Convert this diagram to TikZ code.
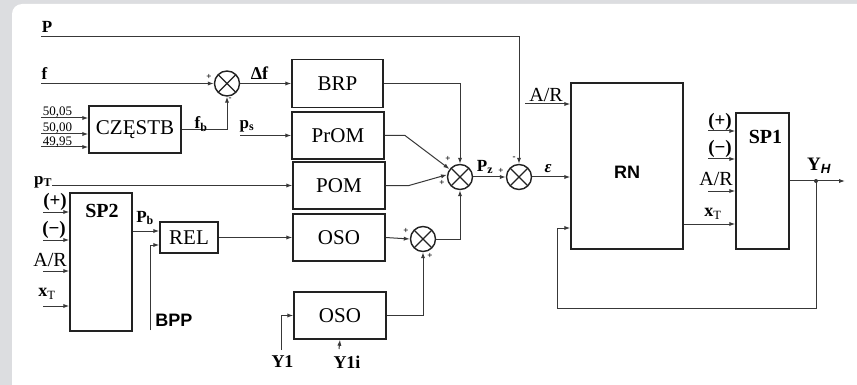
\documentclass[tikz,border=0pt]{standalone}
\usepackage{fontspec}
\setmainfont{Liberation Serif}
\newfontfamily\sansb{Liberation Sans}
\usetikzlibrary{arrows.meta,calc}
\newcommand{\setfs}[1]{\fontsize{#1}{#1}\selectfont}
\definecolor{bggray}{HTML}{DCDDE0}
\definecolor{wire}{HTML}{383838}
\definecolor{edge}{HTML}{222222}
\tikzset{
  box/.style={draw=edge,line width=1.4pt,rectangle,inner sep=0pt,font=\setfs{21}},
  sumnode/.style={draw=edge,line width=1.4pt,circle,minimum size=25pt,inner sep=0pt,
    path picture={\draw[edge,line width=1.1pt] (path picture bounding box.north west) -- (path picture bounding box.south east)
      (path picture bounding box.north east) -- (path picture bounding box.south west);}},
  wirestyle/.style={draw=wire,line width=1pt},
  arr/.style={wirestyle,-{Latex[length=6pt,width=4.2pt]}},
  lbl/.style={inner sep=0pt,font=\setfs{19}\bfseries},
  lblr/.style={inner sep=0pt,font=\setfs{20}},
  sgn/.style={inner sep=0pt,font=\setfs{9}\bfseries},
}
\begin{document}
\begin{tikzpicture}[x=1pt,y=-1pt]
\useasboundingbox (0,0) rectangle (857,385);
\begin{scope}
\clip (0,0) rectangle (857,385);
\fill[bggray] (0,0) rectangle (857,385);
\fill[white,rounded corners=10pt] (12,400) -- (12,4) -- (880,4) -- (880,400) -- cycle;
\end{scope}

% boxes
\node[box,minimum width=92pt,minimum height=47pt] (cz) at (135,129.5) {CZĘSTB};
\node[box,minimum width=91pt,minimum height=48pt] (brp) at (337.5,83.5) {BRP};
\node[box,minimum width=92pt,minimum height=47pt] (prom) at (338,135.5) {PrOM};
\node[box,minimum width=92pt,minimum height=47pt] (pom) at (339,185.5) {POM};
\node[box,minimum width=92pt,minimum height=47pt] (oso1) at (339,237.5) {OSO};
\node[box,minimum width=92pt,minimum height=47pt] (oso2) at (340,315.5) {OSO};
\node[box,minimum width=62pt,minimum height=138pt] (sp2) at (101,262) {};
\node[lbl,font=\setfs{20}\bfseries] (sp2t) at (102,211) {SP2};
\node[box,minimum width=58pt,minimum height=31pt] (rel) at (189,237.5) {REL};
\node[box,minimum width=112pt,minimum height=166pt] (rn) at (627,166) {};
\node[inner sep=0pt,font=\sansb\setfs{18}\bfseries] (rnt) at (627,172) {RN};
\node[box,minimum width=53pt,minimum height=136pt] (sp1) at (762.5,181) {};
\node[lbl,font=\setfs{20}\bfseries] (sp1t) at (765.5,136.5) {SP1};

% summing junctions
\node[sumnode] (s1) at (227,83.5) {};
\node[sumnode] (s2) at (460,177) {};
\node[sumnode] (s3) at (423,239) {};
\node[sumnode] (s4) at (519,177) {};

% free ends
\coordinate (pin) at (41,37);
\coordinate (fin) at (41,83.5);
\coordinate (c1) at (41,118);
\coordinate (c2) at (41,134);
\coordinate (c3) at (41,147);
\coordinate (psin) at (240,135.5);
\coordinate (ptin) at (52,185.5);
\coordinate (ar1) at (525,104);
\coordinate (a1) at (43,212);
\coordinate (a2) at (43,240);
\coordinate (a3) at (43,271);
\coordinate (a4) at (43,306);
\coordinate (bpp) at (150,330);
\coordinate (y1) at (281,350);
\coordinate (y1i) at (339,349);
\coordinate (b1) at (708,131);
\coordinate (b2) at (708,159);
\coordinate (b3) at (708,191);
\coordinate (yout) at (845,181);
\coordinate (jn) at (816,181);

% connectors
\draw[arr] (pin) -| (s4.north);
\draw[arr] (fin) -- (s1.west);
\draw[arr] (s1.east) -- (brp.west);
\draw[arr] (c1) -- (c1 -| cz.west);
\draw[arr] (c2) -- (c2 -| cz.west);
\draw[arr] (c3) -- (c3 -| cz.west);
\draw[arr] (cz.east) -| (s1.south);
\draw[arr] (psin) -- (prom.west);
\draw[arr] (ptin) -- (pom.west);
\draw[arr] (brp.east) -| (s2.north);
\draw[arr] (prom.east) -- (405,135.5) -- (s2.143);
\draw[arr] (pom.east) -- (409,185.5) -- (s2.170);
\draw[arr] (oso1.east) -- (s3.west);
\draw[arr] (s3.east) -| (s2.south);
\draw[arr] (s2.east) -- (s4.west);
\draw[arr] (s4.east) -- (s4.east -| rn.west);
\draw[arr] (ar1) -- (ar1 -| rn.west);
\draw[arr] (a1) -- (a1 -| sp2.west);
\draw[arr] (a2) -- (a2 -| sp2.west);
\draw[arr] (a3) -- (a3 -| sp2.west);
\draw[arr] (a4) -- (a4 -| sp2.west);
\draw[arr] (sp2.east |- 0,231) -- (rel.west |- 0,231);
\draw[arr] (bpp) |- (rel.west |- 0,245);
\draw[arr] (rel.east) -- (oso1.west);
\draw[arr] (y1) |- (oso2.west);
\draw[arr] (y1i) -- (oso2.south);
\draw[arr] (oso2.east) -| (s3.south);
\draw[arr] (rn.east |- 0,224) -- (sp1.west |- 0,224);
\draw[arr] (b1) -- (b1 -| sp1.west);
\draw[arr] (b2) -- (b2 -| sp1.west);
\draw[arr] (b3) -- (b3 -| sp1.west);
\draw[arr] (sp1.east |- jn) -- (yout);
\draw[arr] (jn) -- (816,308) -- (557,308) -- (557,228) -- (rn.west |- 0,228);
\fill[wire] (jn) circle (2pt);

% labels
\node[lbl,font=\setfs{17}\bfseries] (lp) at (47,27) {P};
\node[lbl,font=\setfs{17}\bfseries] (lf) at (44.5,74) {f};
\node[inner sep=0pt,font=\setfs{13}] (l1) at (57.5,112) {50,05};
\node[inner sep=0pt,font=\setfs{13}] (l2) at (57.5,128) {50,00};
\node[inner sep=0pt,font=\setfs{13}] (l3) at (57.5,142) {49,95};
\node[lbl,font=\setfs{17}\bfseries] (lfb) at (201,124) {f\textsubscript{b}};
\node[lbl,font=\setfs{18}\bfseries] (ldf) at (259.5,73) {Δf};
\node[lbl,font=\setfs{17}\bfseries] (lps) at (247,126) {p\textsubscript{s}};
\node[lbl,font=\setfs{17}\bfseries] (lpt) at (43,182) {p\textsubscript{T}};
\node[lbl] (la1) at (55,202) {(+)};
\node[lbl] (la2) at (54,230) {(−)};
\node[lblr] (la3) at (50,260) {A/R};
\node[lbl,font=\setfs{18}\bfseries] (la4) at (47,294) {x\textsubscript{\mdseries T}};
\node[lbl,font=\setfs{17}\bfseries] (lpb) at (145,218) {P\textsubscript{b}};
\node[inner sep=0pt,font=\sansb\setfs{18}\bfseries] (lbpp) at (174,320.5) {BPP};
\node[lbl,font=\setfs{18}\bfseries] (ly1) at (282.5,362) {Y1};
\node[lbl,font=\setfs{18}\bfseries] (ly1i) at (347,362) {Y1i};
\node[lbl,font=\setfs{17}\bfseries] (lpz) at (485,167) {P\textsubscript{z}};
\node[lbl,font=\setfs{17}\bfseries\itshape] (leps) at (548,169) {ε};
\node[lblr] (lar) at (546,95) {A/R};
\node[lbl] (lb1) at (720,122) {(+)};
\node[lbl] (lb2) at (720,149) {(−)};
\node[lblr] (lb3) at (716,179) {A/R};
\node[lbl,font=\setfs{18}\bfseries] (lb4) at (713,214) {x\textsubscript{\mdseries T}};
\node[lbl,font=\setfs{19}\bfseries] (lyh) at (819,166) {Y\textsubscript{\sansb\bfseries\itshape H}};

% signs
\node[sgn] (g1) at (209,77) {+};
\node[sgn] (g2) at (230,99) {-};
\node[sgn] (g3) at (448,159) {+};
\node[sgn] (g4) at (442,183) {+};
\node[sgn] (g5) at (406,231) {+};
\node[sgn] (g6) at (430,256) {+};
\node[sgn] (g7) at (514,158) {-};
\node[sgn] (g8) at (501,171) {+};
\end{tikzpicture}
\end{document}
